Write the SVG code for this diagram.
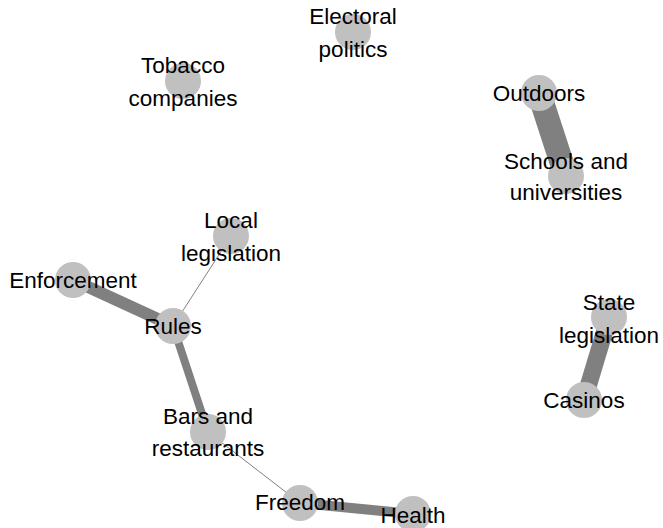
<svg xmlns="http://www.w3.org/2000/svg" width="663" height="528" viewBox="0 0 663 528">
<style>
.n{fill:#c0c0c0}
.e{stroke:#808080;fill:none}
text{font-family:"Liberation Sans",Arial,sans-serif;font-size:22.5px;fill:#000;text-anchor:middle}
</style>
<rect width="663" height="528" fill="#fff"/>
<g id="edges">
<line class="e" x1="73" y1="280" x2="173" y2="326" stroke-width="12"/>
<line class="e" x1="173" y1="326" x2="231" y2="236" stroke-width="1"/>
<line class="e" x1="173" y1="326" x2="208" y2="432" stroke-width="8"/>
<line class="e" x1="208" y1="432" x2="300" y2="503" stroke-width="1"/>
<line class="e" x1="300" y1="503" x2="413" y2="514" stroke-width="10"/>
<line class="e" x1="539" y1="93" x2="566" y2="176" stroke-width="24"/>
<line class="e" x1="609" y1="317" x2="584" y2="400" stroke-width="17"/>
</g>
<g id="electoral"><circle class="n" cx="353" cy="32" r="18"/><text x="353" y="24">Electoral</text><text x="353" y="57">politics</text></g>
<g id="tobacco"><circle class="n" cx="183" cy="81" r="18"/><text x="183" y="73">Tobacco</text><text x="183" y="106">companies</text></g>
<g id="outdoors"><circle class="n" cx="539" cy="93" r="18"/><text x="539" y="101">Outdoors</text></g>
<g id="schools"><circle class="n" cx="566" cy="176" r="18"/><text x="566" y="169">Schools and</text><text x="566" y="200">universities</text></g>
<g id="state"><circle class="n" cx="609" cy="317" r="18"/><text x="609" y="310">State</text><text x="609" y="343">legislation</text></g>
<g id="casinos"><circle class="n" cx="584" cy="400" r="18"/><text x="584" y="408">Casinos</text></g>
<g id="local"><circle class="n" cx="231" cy="236" r="18"/><text x="231" y="228">Local</text><text x="231" y="261">legislation</text></g>
<g id="enforcement"><circle class="n" cx="73" cy="280" r="18"/><text x="73" y="288">Enforcement</text></g>
<g id="rules"><circle class="n" cx="173" cy="326" r="18"/><text x="173" y="334">Rules</text></g>
<g id="bars"><circle class="n" cx="208" cy="432" r="18"/><text x="208" y="424">Bars and</text><text x="208" y="456">restaurants</text></g>
<g id="freedom"><circle class="n" cx="300" cy="503" r="18"/><text x="300" y="510">Freedom</text></g>
<g id="health"><circle class="n" cx="413" cy="514" r="18"/><text x="413" y="523">Health</text></g>
</svg>
